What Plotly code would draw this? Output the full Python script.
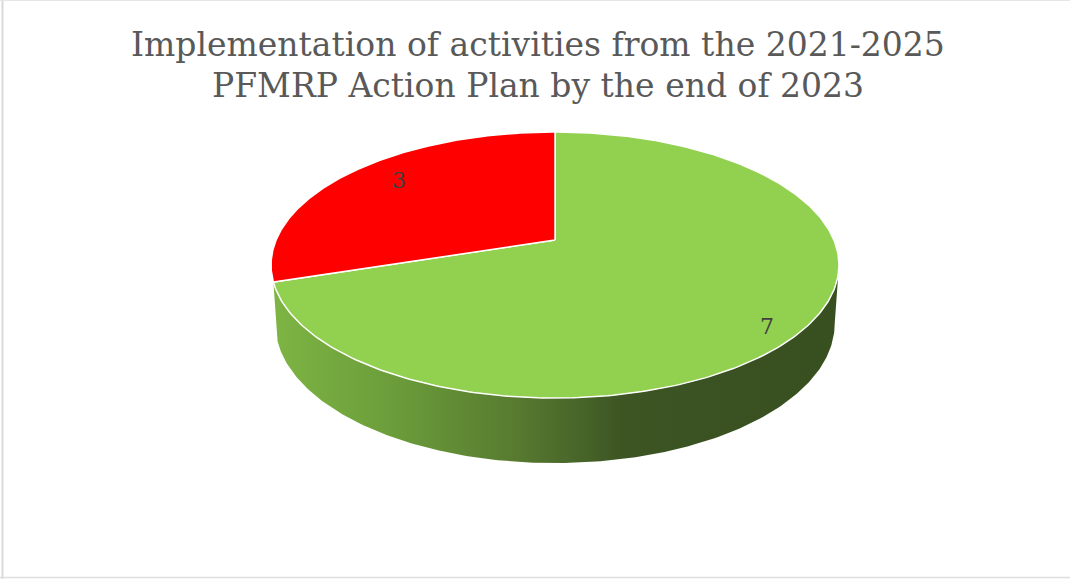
import numpy as np
import plotly.graph_objects as go

# ---- data -------------------------------------------------------------
categories = ["Implemented", "Not implemented"]
values = [7, 3]
top_colors = ["#92d050", "#ff0000"]
title_lines = ["Implementation of activities from the 2021-2025",
               "PFMRP Action Plan by the end of 2023"]

# ---- geometry of the tilted pie (canvas pixel units) ----------------------
W, H = 1070, 579
CX, CY = 555.0, 240.0      # projected centre of the pie top
RX, RY = 278.9, 128.3      # horizontal / vertical radii before perspective
K = 0.188                  # perspective strength (far side shrinks)
DEPTH = 57.4               # thickness of the pie
BOTTOM_SCALE = 0.985       # bottom rim slightly narrower than the top rim
LABEL_R = [0.85, 0.75]     # label distance from centre (fraction of radius)
LABEL_DY = [16, -7]


def project(theta_deg, r=1.0, bottom=False):
    """Map a point of the pie (clockwise angle from 12 o'clock, radius
    fraction) to canvas coordinates using a simple perspective."""
    t = np.radians(np.asarray(theta_deg, dtype=float))
    X = r * np.sin(t)
    Y = r * np.cos(t)
    w = 1 + K * Y
    u = CX + RX * X / w
    v = CY - RY * Y / w
    if bottom:
        u = CX + (u - CX) * BOTTOM_SCALE
        v = v + DEPTH / w ** 0.6
    return u, v


total = float(sum(values))
bounds = np.concatenate([[0.0], np.cumsum(values) / total * 360.0])

# silhouette angle where the side wall becomes visible on the right
sil = np.degrees(np.arctan2(np.sqrt(1 - K ** 2), -K))

fig = go.Figure()

# ---- side wall (only the first slice's wall faces the viewer) -------------
wall_scale = [[0.0, "#7db443"], [0.2, "#6c9e3b"], [0.42, "#587c30"],
              [0.54, "#48662a"], [0.62, "#3c5523"], [1.0, "#384f20"]]
a0, a1 = bounds[0], bounds[1]
th = np.linspace(max(a0, sil), a1, 200)
ut, vt = project(th)
ub, vb = project(th[::-1], bottom=True)
fig.add_trace(go.Scatter(
    x=np.concatenate([ut, ub, ut[:1]]),
    y=np.concatenate([vt, vb, vt[:1]]),
    mode="lines", fill="toself", line=dict(width=0),
    fillgradient=dict(type="horizontal", colorscale=wall_scale,
                      start=CX - RX, stop=CX + RX),
    hoverinfo="skip", showlegend=False))

# ---- top faces -----------------------------------------------------------
for i, (a0, a1) in enumerate(zip(bounds[:-1], bounds[1:])):
    th = np.linspace(a0, a1, 300)
    u, v = project(th)
    fig.add_trace(go.Scatter(
        x=np.concatenate([[CX], u, [CX]]),
        y=np.concatenate([[CY], v, [CY]]),
        mode="lines", fill="toself", fillcolor=top_colors[i],
        line=dict(color="white", width=1.5),
        name=categories[i], hoverinfo="name", showlegend=False))

# ---- value labels ----------------------------------------------------------
for i, (a0, a1) in enumerate(zip(bounds[:-1], bounds[1:])):
    u, v = project((a0 + a1) / 2, r=LABEL_R[i])
    fig.add_annotation(x=float(u), y=float(v) + LABEL_DY[i], text=str(values[i]),
                       showarrow=False,
                       font=dict(family="DejaVu Serif", size=22, color="#404040"))

# ---- title (two centred lines) ---------------------------------------------
for line, ty in zip(title_lines, [44, 85]):
    fig.add_annotation(x=538, y=ty, text=line, showarrow=False,
                       xanchor="center", yanchor="middle",
                       font=dict(family="DejaVu Serif", size=33, color="#595959"))

# ---- chart frame -----------------------------------------------------------
fig.add_shape(type="line", x0=2.5, x1=2.5, y0=0, y1=H,
              line=dict(color="#d9d9d9", width=2))
fig.add_shape(type="line", x0=0, x1=W, y0=0.5, y1=0.5,
              line=dict(color="#e6e6e6", width=1))
fig.add_shape(type="line", x0=0, x1=W, y0=577.5, y1=577.5,
              line=dict(color="#dedede", width=1.5))

fig.update_layout(
    width=W, height=H,
    margin=dict(l=0, r=0, t=0, b=0),
    paper_bgcolor="white", plot_bgcolor="white",
    xaxis=dict(range=[0, W], visible=False, fixedrange=True),
    yaxis=dict(range=[H, 0], visible=False, fixedrange=True),
)

fig.write_html("out.html")
